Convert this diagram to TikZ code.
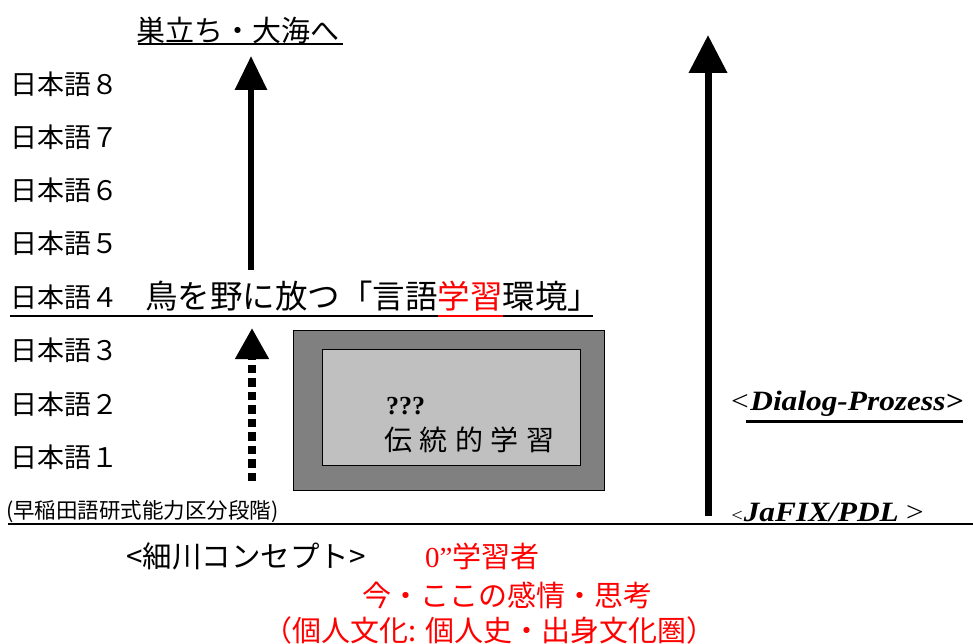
\documentclass[tikz,border=0pt]{standalone}
\usepackage{fontspec}
\setmainfont{Liberation Serif}
\newfontfamily\jp{Noto Sans CJK JP}
\usetikzlibrary{arrows.meta}
\definecolor{boxdark}{RGB}{128,128,128}
\definecolor{boxlight}{RGB}{192,192,192}
\definecolor{jred}{RGB}{255,0,0}
\begin{document}
\begin{tikzpicture}[x=1pt,y=-1pt,
  txt/.style={anchor=west,inner sep=0pt},
  level/.style={txt,font=\jp\fontsize{27}{27}\selectfont},
  redtxt/.style={txt,text=jred,font=\jp\fontsize{29}{29}\selectfont},
  rule/.style={line width=2pt},
  bigarrow/.style={line width=6pt,-{Triangle[width=31pt,length=34pt]}}
]
\useasboundingbox (0,0) rectangle (973,644);

% top label
\node[txt,font=\jp\fontsize{29}{29}\selectfont] (top) at (136,30) {巣立ち・大海へ};
\draw[rule] (138,44.5) -- (343,44.5);

% levels
\foreach \n/\y in {８/84,７/137,６/190,５/243,４/297,３/350,２/404,１/457}
  \node[level] (lv\n) at (10,\y) {日本語\n};

% line under level 4
\draw[rule] (10,316) -- (593,316);
\node[txt,font=\jp\fontsize{32.5}{32.5}\selectfont] (env) at (145,296)
  {鳥を野に放つ「言語{\color{jred}学習}環境」};
\draw[jred,line width=2pt] (438,316) -- (503,316);

% left solid arrow
\coordinate (a1s) at (251,270);
\coordinate (a1e) at (251,56);
\draw[bigarrow] (a1s) -- (a1e);

% dotted arrow
\coordinate (a2s) at (252,481);
\coordinate (a2e) at (252,328);
\draw[line width=7.5pt,dash pattern=on 8.5pt off 5pt,-{Triangle[width=32pt,length=31pt]}] (a2s) -- (a2e);

% box
\node[draw=black,line width=1pt,fill=boxdark,anchor=north west,inner sep=0pt,
  minimum width=311pt,minimum height=160pt] (outer) at (293,330) {};
\node[draw=black,line width=1pt,fill=boxlight,anchor=north west,inner sep=0pt,
  minimum width=258pt,minimum height=116pt] (inner) at (322,349) {};
\node[txt,font=\bfseries\fontsize{26}{26}\selectfont] (qq) at (386,406) {???};
\node[txt,font=\jp\fontsize{28}{28}\selectfont] (trad) at (384,440)
  {伝\hspace{7.5pt}統\hspace{7.5pt}的\hspace{7.5pt}学\hspace{7.5pt}習};

% right arrow
\coordinate (a3s) at (708,516);
\coordinate (a3e) at (708,35);
\draw[line width=7pt,-{Triangle[width=37pt,length=38pt]}] (a3s) -- (a3e);

\node[txt] (dia) at (729,404) {\scalebox{1.12}[1]{\fontsize{28}{28}\selectfont\textit{<}\textbf{\textit{Dialog-Prozess>}}}};
\draw[line width=3pt] (746,421) -- (963,421);

\node[txt,anchor=base west] (jafix) at (730,521) {\scalebox{1.12}[1]{{\fontsize{18}{18}\selectfont\textit{<}}\fontsize{28}{28}\selectfont\textbf{\textit{JaFIX/PDL}}\,\textit{>}}};

% bottom
\node[txt,font=\jp\fontsize{21.5}{21.5}\selectfont] (waseda) at (6,512) {(早稲田語研式能力区分段階)};
\draw[rule] (8,524) -- (973,524);

\node[txt,font=\jp\fontsize{29.5}{29.5}\selectfont] (hoso) at (126,556) {<細川コンセプト>};
\node[redtxt] (zero) at (425,556) {\fontspec{Liberation Serif}0”\jp 学習者};
\node[redtxt] (now) at (362,595) {今・ここの感情・思考};
\node[redtxt] (kojin) at (263,630) {（個人文化:\hspace{9pt}個人史・出身文化圏）};
\end{tikzpicture}
\end{document}
